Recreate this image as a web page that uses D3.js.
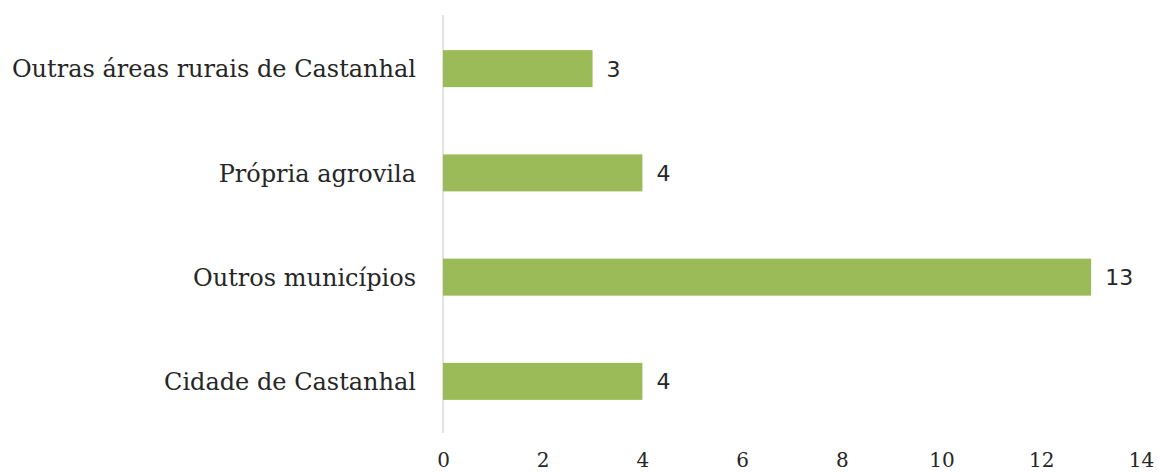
<!DOCTYPE html>
<html>
<head>
<meta charset="utf-8">
<script src="https://cdn.jsdelivr.net/npm/d3@7"></script>
<style>
  body { margin: 0; background: #fff; }
  svg { display: block; }
</style>
</head>
<body>
<svg id="chart"></svg>
<script>
(function() {

  var categories = ['Outras áreas rurais de Castanhal', 'Própria agrovila', 'Outros municípios', 'Cidade de Castanhal'];
  var values = [3, 4, 13, 4];
  var ticks = [0, 2, 4, 6, 8, 10, 12, 14];

  var width = 1158, height = 473;
  var left = 443, right = 1141, top = 16.5, bottom = 433.5;

  var svg = d3.select('#chart')
    .attr('width', width)
    .attr('height', height);

  var x = d3.scaleLinear().domain([0, 14]).range([left, right]);
  var y = d3.scaleBand().domain(categories).range([top, bottom]).paddingInner(0.645).paddingOuter(0.3225);

  // vertical baseline
  svg.append('line')
    .attr('x1', x(0)).attr('x2', x(0))
    .attr('y1', 15).attr('y2', 433)
    .attr('stroke', '#d9d9d9')
    .attr('stroke-width', 1.5);

  svg.selectAll('rect.bar')
    .data(values)
    .enter().append('rect')
      .attr('class', 'bar')
      .attr('x', x(0))
      .attr('y', function(d, i) { return y(categories[i]); })
      .attr('width', function(d) { return x(d) - x(0); })
      .attr('height', y.bandwidth())
      .attr('fill', '#9bbb59');

  svg.selectAll('text.val')
    .data(values)
    .enter().append('text')
      .attr('class', 'val')
      .attr('x', function(d) { return x(d) + 14; })
      .attr('y', function(d, i) { return y(categories[i]) + y.bandwidth() / 2; })
      .attr('dy', '0.36em')
      .attr('font-family', 'DejaVu Sans, sans-serif')
      .attr('font-size', 22)
      .attr('fill', '#262626')
      .text(function(d) { return d; });

  // category labels
  var yAxis = d3.axisLeft(y).tickSize(0).tickPadding(27);
  var gy = svg.append('g').attr('transform', 'translate(' + x(0) + ',0)').call(yAxis);
  gy.select('.domain').remove();
  gy.selectAll('text')
    .attr('dy', '0.36em')
    .attr('font-family', 'DejaVu Serif, serif')
    .attr('font-size', 24)
    .attr('fill', '#262626');

  // value axis labels
  var xAxis = d3.axisBottom(x).tickValues(ticks).tickSize(0).tickPadding(0);
  var gx = svg.append('g').attr('transform', 'translate(0,' + 467 + ')').call(xAxis);
  gx.select('.domain').remove();
  gx.selectAll('text')
    .attr('dy', 0)
    .attr('font-family', 'DejaVu Serif, serif')
    .attr('font-size', 20)
    .attr('fill', '#262626');
})();
</script>
</body>
</html>
